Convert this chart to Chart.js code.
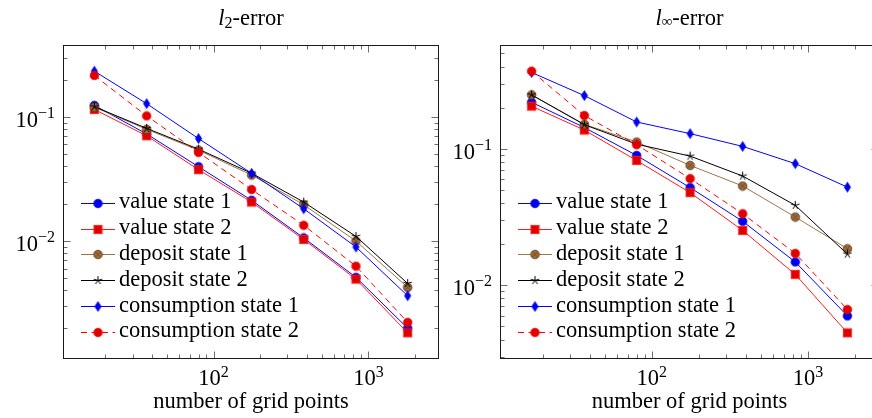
<!DOCTYPE html>
<html><head><meta charset="utf-8">
<script src="https://cdn.jsdelivr.net/npm/chart.js@4.4.0/dist/chart.umd.min.js"></script>
<style>
html,body{margin:0;padding:0;background:#fff;overflow:hidden;width:872px;height:418px;position:relative}
canvas{position:absolute;top:0}
#c1{left:0}
#c2{left:445px}
</style></head><body>
<canvas id="c1" width="445" height="418"></canvas>
<canvas id="c2" width="450" height="418"></canvas>
<script>
// ---------------- data ----------------
const gridPoints = [17, 37, 80, 176, 382, 830, 1790];
const seriesNames = ['value state 1', 'value state 2', 'deposit state 1', 'deposit state 2', 'consumption state 1', 'consumption state 2'];
const xAxisTitle = 'number of grid points';

// l2-error
const l2Value1   = [0.124, 0.073, 0.0397, 0.0213, 0.0106, 0.0051, 0.00198];
const l2Value2   = [0.115, 0.0705, 0.0376, 0.0206, 0.0103, 0.00493, 0.00182];
const l2Deposit1 = [0.120, 0.0795, 0.054, 0.034, 0.0196, 0.0100, 0.00423];
const l2Deposit2 = [0.121, 0.081, 0.055, 0.0352, 0.0206, 0.0109, 0.00455];
const l2Cons1    = [0.234, 0.128, 0.067, 0.0351, 0.0182, 0.00895, 0.00362];
const l2Cons2    = [0.216, 0.102, 0.0518, 0.026, 0.0134, 0.00627, 0.00221];

// l-infinity error
const liValue1   = [0.219, 0.143, 0.0893, 0.0519, 0.0294, 0.0148, 0.00596];
const liValue2   = [0.205, 0.137, 0.082, 0.0477, 0.0252, 0.0120, 0.00448];
const liDeposit1 = [0.248, 0.151, 0.112, 0.0755, 0.0533, 0.0316, 0.0185];
const liDeposit2 = [0.248, 0.150, 0.108, 0.0883, 0.0631, 0.0385, 0.0169];
const liCons1    = [0.362, 0.245, 0.157, 0.129, 0.104, 0.0777, 0.0523];
const liCons2    = [0.370, 0.175, 0.107, 0.0604, 0.0334, 0.0171, 0.00664];

// ---------------- styles ----------------
const FONT = '"Liberation Serif","Times New Roman",Times,serif';
const FS = 22.5;

function mk(w, h, draw) {
  const c = document.createElement('canvas');
  c.width = w; c.height = h;
  const g = c.getContext('2d');
  draw(g, w / 2, h / 2);
  return c;
}
const markers = {
  circleBlue: mk(11, 11, (g, cx, cy) => { g.beginPath(); g.arc(cx, cy, 4.3, 0, 2 * Math.PI); g.fillStyle = '#0000e6'; g.fill(); g.lineWidth = 0.8; g.strokeStyle = '#0000ff'; g.stroke(); }),
  squareRed: mk(11, 11, (g, cx, cy) => { g.fillStyle = '#e00000'; g.fillRect(cx - 4.2, cy - 4.2, 8.4, 8.4); g.lineWidth = 0.8; g.strokeStyle = '#ff2020'; g.strokeRect(cx - 4.2, cy - 4.2, 8.4, 8.4); }),
  otimesBrown: mk(11, 11, (g, cx, cy) => {
    g.beginPath(); g.arc(cx, cy, 4.3, 0, 2 * Math.PI); g.fillStyle = '#9a6a3a'; g.fill();
    g.lineWidth = 0.9; g.strokeStyle = '#6a4220'; g.stroke();
    g.beginPath(); const d = 3.0;
    g.moveTo(cx - d, cy - d); g.lineTo(cx + d, cy + d); g.moveTo(cx + d, cy - d); g.lineTo(cx - d, cy + d);
    g.lineWidth = 0.7; g.strokeStyle = '#6a4220'; g.stroke();
  }),
  starBlack: mk(11, 11, (g, cx, cy) => {
    g.beginPath();
    for (let k = 0; k < 5; k++) { const a = -Math.PI / 2 + k * 2 * Math.PI / 5; g.moveTo(cx, cy); g.lineTo(cx + 4.4 * Math.cos(a), cy + 4.4 * Math.sin(a)); }
    g.lineWidth = 1; g.strokeStyle = '#000'; g.stroke();
  }),
  diamondBlue: mk(9, 13, (g, cx, cy) => {
    g.beginPath(); g.moveTo(cx, cy - 5); g.lineTo(cx + 3.2, cy); g.lineTo(cx, cy + 5); g.lineTo(cx - 3.2, cy); g.closePath();
    g.fillStyle = '#0000e6'; g.fill(); g.lineWidth = 0.7; g.strokeStyle = '#0000ff'; g.stroke();
  }),
  circleRed: mk(11, 11, (g, cx, cy) => { g.beginPath(); g.arc(cx, cy, 4.3, 0, 2 * Math.PI); g.fillStyle = '#e00000'; g.fill(); g.lineWidth = 0.8; g.strokeStyle = '#ff0000'; g.stroke(); })
};
const seriesStyle = [
  { color: '#0000ff', marker: markers.circleBlue, dash: [] },
  { color: '#ff1a1a', marker: markers.squareRed, dash: [] },
  { color: '#9e7448', marker: markers.otimesBrown, dash: [] },
  { color: '#000000', marker: markers.starBlack, dash: [] },
  { color: '#0000ff', marker: markers.diamondBlue, dash: [] },
  { color: '#ff0000', marker: markers.circleRed, dash: [6, 4.5] }
];

function buildDatasets(seriesList) {
  return seriesList.map((vals, i) => ({
    label: seriesNames[i],
    data: gridPoints.map((x, j) => ({ x: x, y: vals[j] })),
    borderColor: seriesStyle[i].color,
    backgroundColor: seriesStyle[i].color,
    borderWidth: 1,
    borderDash: seriesStyle[i].dash,
    pointStyle: seriesStyle[i].marker,
    pointRadius: 5,
    pointHoverRadius: 5,
    tension: 0,
    fill: false,
    order: seriesList.length - 1 - i
  }));
}

function logRange(arrs) {
  const all = [].concat(...arrs);
  const lo = Math.log10(Math.min(...all)), hi = Math.log10(Math.max(...all));
  const pad = (hi - lo) * 0.1;
  return [Math.pow(10, lo - pad), Math.pow(10, hi + pad)];
}
function tickValues(min, max) {
  const out = [];
  for (let e = Math.floor(Math.log10(min)) - 1; e <= Math.ceil(Math.log10(max)); e++) {
    for (let m = 1; m <= 9; m++) {
      const v = m * Math.pow(10, e);
      if (v >= min * 0.9999 && v <= max * 1.0001) out.push({ v: v, major: m === 1, e: e });
    }
  }
  return out;
}

function drawRich(ctx, parts, x, y, align) {
  let w = 0;
  parts.forEach(p => { ctx.font = p.font; p.w = ctx.measureText(p.text).width; w += p.w; });
  let sx = align === 'center' ? x - w / 2 : (align === 'right' ? x - w : x);
  ctx.textAlign = 'left'; ctx.textBaseline = 'alphabetic';
  parts.forEach(p => { ctx.font = p.font; ctx.fillText(p.text, sx, y + (p.dy || 0)); sx += p.w; });
}

const decorPlugin = {
  id: 'decor',
  afterDraw(chart, args, opts) {
    const ctx = chart.ctx, a = chart.chartArea;
    const xs = chart.scales.x, ys = chart.scales.y;
    ctx.save();
    // ticks (inward, mirrored)
    ctx.strokeStyle = '#6e6e6e'; ctx.lineWidth = 1;
    ctx.beginPath();
    tickValues(xs.min, xs.max).forEach(t => {
      const px = Math.round(xs.getPixelForValue(t.v)) + 0.5, L = t.major ? 7.5 : 4.5;
      ctx.moveTo(px, a.bottom); ctx.lineTo(px, a.bottom - L);
      ctx.moveTo(px, a.top); ctx.lineTo(px, a.top + L);
    });
    tickValues(ys.min, ys.max).forEach(t => {
      const py = Math.round(ys.getPixelForValue(t.v)) + 0.5, L = t.major ? 7.5 : 4.5;
      ctx.moveTo(a.left, py); ctx.lineTo(a.left + L, py);
      ctx.moveTo(a.right, py); ctx.lineTo(a.right - L, py);
    });
    ctx.stroke();
    // box
    ctx.strokeStyle = '#1a1a1a'; ctx.lineWidth = 1;
    ctx.strokeRect(a.left + 0.5, a.top + 0.5, a.right - a.left - 1, a.bottom - a.top - 1);
    // tick labels
    ctx.fillStyle = '#000';
    const base = FS + 'px ' + FONT, sup = '16px ' + FONT;
    tickValues(xs.min, xs.max).filter(t => t.major).forEach(t => {
      const px = xs.getPixelForValue(t.v);
      drawRich(ctx, [{ text: '10', font: base }, { text: String(t.e).replace('-', '\u2212'), font: sup, dy: -8.5 }], px, a.bottom + 26, 'center');
    });
    tickValues(ys.min, ys.max).filter(t => t.major).forEach(t => {
      const py = ys.getPixelForValue(t.v);
      drawRich(ctx, [{ text: '10', font: base }, { text: String(t.e).replace('-', '\u2212'), font: sup, dy: -9 }], a.left - 8, py + 10, 'right');
    });
    // axis title
    ctx.font = base; ctx.textAlign = 'center'; ctx.textBaseline = 'alphabetic';
    ctx.fillText(opts.xTitle, (a.left + a.right) / 2, 408);
    // chart title
    drawRich(ctx, opts.titleParts, (a.left + a.right) / 2, 25, 'center');
    // legend
    const lx = a.left + 18, ly0 = a.top + 157.7, step = 25.8;
    chart.data.datasets.forEach((ds, i) => {
      const y = ly0 + i * step;
      ctx.save();
      ctx.strokeStyle = ds.borderColor; ctx.lineWidth = 1; ctx.setLineDash(ds.borderDash || []);
      ctx.beginPath(); ctx.moveTo(lx, Math.round(y) + 0.5); ctx.lineTo(lx + 34, Math.round(y) + 0.5); ctx.stroke();
      ctx.restore();
      const m = ds.pointStyle;
      ctx.drawImage(m, lx + 17 - m.width / 2, Math.round(y) + 0.5 - m.height / 2);
      ctx.font = base; ctx.textAlign = 'left'; ctx.textBaseline = 'alphabetic'; ctx.fillStyle = '#000';
      ctx.fillText(ds.label, lx + 38, y + 5.6);
    });
    ctx.restore();
  }
};

function makeChart(id, seriesList, padding, titleParts) {
  const xr = logRange([gridPoints]);
  const yr = logRange(seriesList);
  return new Chart(document.getElementById(id), {
    type: 'line',
    data: { datasets: buildDatasets(seriesList) },
    options: {
      responsive: false,
      animation: false,
      devicePixelRatio: 1,
      layout: { padding: padding },
      plugins: { legend: { display: false }, tooltip: { enabled: false }, title: { display: false },
        decor: { titleParts: titleParts, xTitle: xAxisTitle } },
      scales: {
        x: { type: 'logarithmic', min: xr[0], max: xr[1], display: false },
        y: { type: 'logarithmic', min: yr[0], max: yr[1], display: false }
      },
      elements: { line: { tension: 0 } }
    },
    plugins: [decorPlugin]
  });
}

const titleFont = FS + 'px ' + FONT;
makeChart('c1', [l2Value1, l2Value2, l2Deposit1, l2Deposit2, l2Cons1, l2Cons2],
  { left: 63, top: 45, right: 445 - 442, bottom: 418 - 359 },
  [{ text: 'l', font: 'italic ' + titleFont }, { text: '2', font: '16px ' + FONT, dy: 2.5 }, { text: '-error', font: titleFont }]);
makeChart('c2', [liValue1, liValue2, liDeposit1, liDeposit2, liCons1, liCons2],
  { left: 55, top: 45, right: 450 - 434, bottom: 418 - 359 },
  [{ text: 'l', font: 'italic ' + titleFont }, { text: '\u221E', font: '15px ' + FONT, dy: 1 }, { text: '-error', font: titleFont }]);
</script>
</body></html>
